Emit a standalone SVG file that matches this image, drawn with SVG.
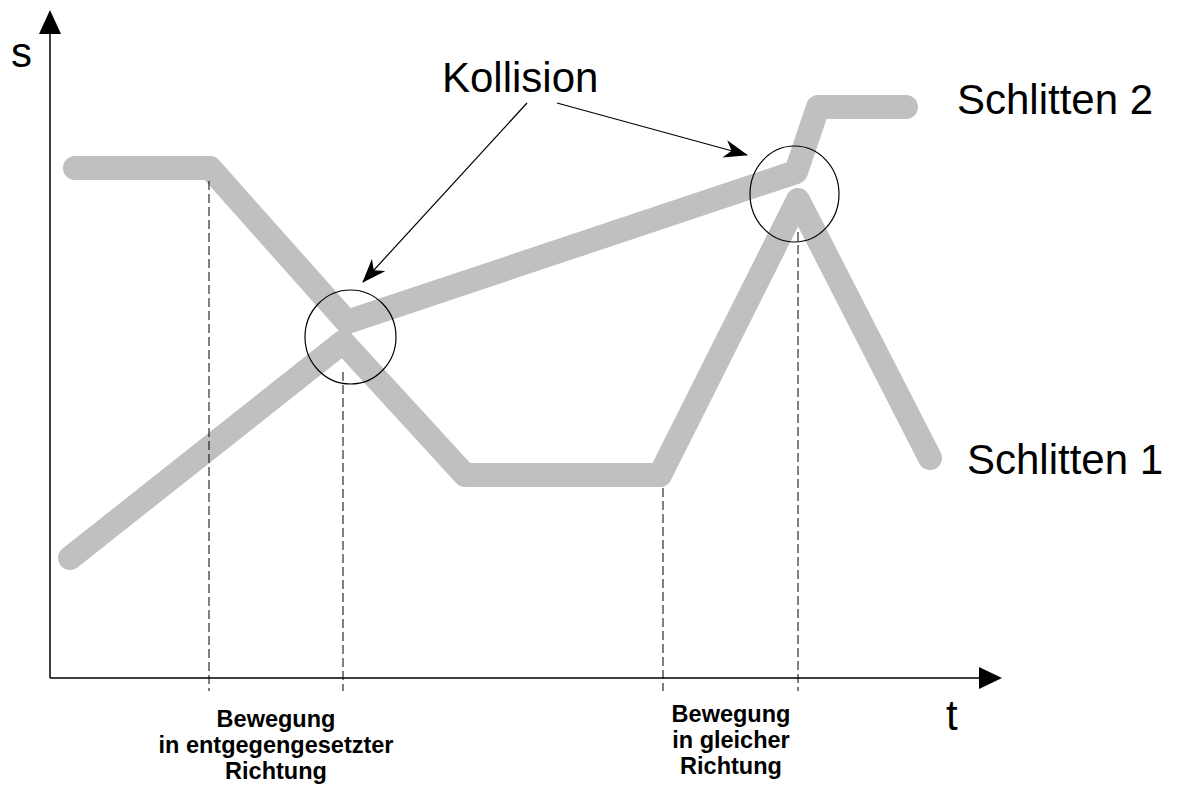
<svg xmlns="http://www.w3.org/2000/svg" width="1182" height="787" viewBox="0 0 1182 787">
<style>
.track{fill:none;stroke:#c0c0c0;stroke-width:24;stroke-linecap:round;stroke-linejoin:round}
.axis{stroke:#000;stroke-width:1.5;fill:none}
.dash{stroke:#000;stroke-width:1;stroke-dasharray:9,4;fill:none}
.ring{fill:none;stroke:#000;stroke-width:1.2}
.ptr{stroke:#000;stroke-width:1.2;fill:none;marker-end:url(#stealth)}
.big{font-family:"Liberation Sans",Arial,sans-serif;font-size:42px;fill:#000}
.note{font-family:"Liberation Sans",Arial,sans-serif;font-size:23.5px;font-weight:bold;fill:#000;text-anchor:middle}
</style>
<defs>
<marker id="stealth" viewBox="0 0 24 18" refX="23" refY="9" markerWidth="24" markerHeight="18" markerUnits="userSpaceOnUse" orient="auto">
<path d="M24,9 L0,0 L7,9 L0,18 z" fill="#000"/>
</marker>
</defs>
<rect width="1182" height="787" fill="#fff"/>
<g id="schlitten2-track">
<polyline class="track" points="75,168 210,168 347,322 796,172 818,107 906,107"/>
</g>
<g id="schlitten1-track">
<polyline class="track" points="70,558 343,342 465,475 660,475 798,200 930,458"/>
</g>
<g id="axes">
<line class="axis" x1="50" y1="32" x2="50" y2="678"/>
<polygon points="50,10 39,34 61,34" fill="#000"/>
<line class="axis" x1="50" y1="678" x2="981" y2="678"/>
<polygon points="1002,678 979,667 979,689" fill="#000"/>
<text class="big" x="11" y="67">s</text>
<text class="big" x="946" y="730">t</text>
</g>
<g id="guides">
<line class="dash" x1="209" y1="181" x2="209" y2="691"/>
<line class="dash" x1="343" y1="372" x2="343" y2="691"/>
<line class="dash" x1="663" y1="488" x2="663" y2="691"/>
<line class="dash" x1="798" y1="232" x2="798" y2="691"/>
</g>
<g id="collision1">
<ellipse class="ring" cx="350.5" cy="337" rx="45.5" ry="47"/>
</g>
<g id="collision2">
<ellipse class="ring" cx="794.5" cy="194" rx="44.5" ry="48"/>
</g>
<g id="label-kollision">
<text class="big" x="442" y="92">Kollision</text>
</g>
<g id="label-schlitten2">
<text class="big" x="957" y="114">Schlitten 2</text>
</g>
<g id="label-schlitten1">
<text class="big" x="967" y="474">Schlitten 1</text>
</g>
<g id="label-entgegengesetzt">
<text class="note" x="276" y="727">Bewegung</text>
<text class="note" x="276" y="753">in entgegengesetzter</text>
<text class="note" x="276" y="779">Richtung</text>
</g>
<g id="label-gleich">
<text class="note" x="731" y="722">Bewegung</text>
<text class="note" x="731" y="748">in gleicher</text>
<text class="note" x="731" y="774">Richtung</text>
</g>
<g id="connectors">
<line class="ptr" x1="527" y1="103" x2="363" y2="282"/>
<line class="ptr" x1="557" y1="103" x2="747" y2="155"/>
</g>
</svg>
